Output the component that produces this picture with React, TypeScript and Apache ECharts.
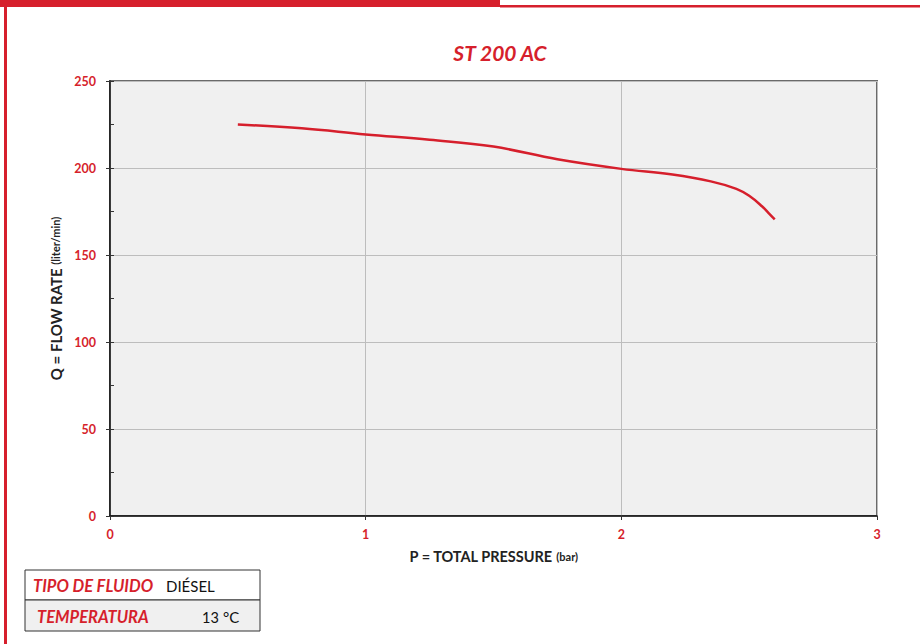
import React, { useEffect, useRef } from "react";
import * as echarts from "echarts";

const titleText = "ST 200 AC";
const pressure = [0.5, 0.75, 1.0, 1.25, 1.5, 1.75, 2.0, 2.2, 2.35, 2.45, 2.5, 2.55, 2.58, 2.6];
const flow = [225, 222.8, 219.3, 216.2, 212.3, 205, 199.5, 196.2, 192.3, 188, 184, 178, 173.5, 170.5];
const xTicks = [0, 1, 2, 3];
const yTicks = [0, 50, 100, 150, 200, 250];
const tableRows = [
  ["TIPO DE FLUIDO", "DIÉSEL", ""],
  ["TEMPERATURA", "13", "°C"],
];

const RED = "#d61f2c";

export default function App() {
  const ref = useRef<HTMLDivElement>(null);
  useEffect(() => {
    if (!ref.current) return;
    const chart = echarts.init(ref.current, undefined, { renderer: "svg" });
    const data = pressure.map((p, i) => [p, flow[i]]);
    const font = "Lato, 'Open Sans', sans-serif";
    chart.setOption({
      animation: false,
      backgroundColor: "#ffffff",
      grid: {
        left: 110,
        right: 43,
        top: 81,
        bottom: 128,
        show: true,
        backgroundColor: "#f0f0f0",
        borderColor: "#6a6a6a",
        borderWidth: 2,
      },
      xAxis: {
        type: "value",
        min: xTicks[0],
        max: xTicks[xTicks.length - 1],
        interval: 1,
        name: "{a|P = TOTAL PRESSURE }{b|(bar)}",
        nameLocation: "middle",
        nameGap: 33,
        nameTextStyle: {
          rich: {
            a: { fontFamily: font, fontSize: 14.5, fontWeight: "bold", color: "#222" },
            b: { fontFamily: font, fontSize: 11, fontWeight: "bold", color: "#222" },
          },
        },
        axisLine: { show: true, onZero: false, lineStyle: { color: "#111", width: 1.5 } },
        axisTick: { show: true, length: 4, lineStyle: { color: "#333" } },
        axisLabel: { color: RED, fontFamily: font, fontWeight: "bold", fontSize: 12.5, margin: 12 },
        splitLine: { show: true, lineStyle: { color: "#bdbdbd", width: 1 } },
      },
      yAxis: [
        {
          type: "value",
          min: yTicks[0],
          max: yTicks[yTicks.length - 1],
          interval: 50,
          name: "{a|Q = FLOW RATE }{b|(liter/min)}",
          nameLocation: "middle",
          nameRotate: 90,
          nameGap: 43,
          nameTextStyle: {
            rich: {
              a: { fontFamily: font, fontSize: 15, fontWeight: "bold", color: "#222" },
              b: { fontFamily: font, fontSize: 11, fontWeight: "bold", color: "#222" },
            },
          },
          axisLine: { show: true, onZero: false, lineStyle: { color: "#111", width: 1.5 } },
          axisTick: { show: true, length: 4, lineStyle: { color: "#333" } },
          axisLabel: { color: RED, fontFamily: font, fontWeight: "bold", fontSize: 12.5, margin: 14 },
          splitLine: { show: true, lineStyle: { color: "#bdbdbd", width: 1 } },
        },
        {
          type: "value",
          position: "left",
          min: 0,
          max: 250,
          interval: 25,
          axisLine: { show: false },
          axisTick: { show: true, inside: true, length: 4, lineStyle: { color: "#333" } },
          axisLabel: { show: false },
          splitLine: { show: false },
        },
      ],
      series: [
        {
          type: "line",
          data,
          smooth: 0.4,
          showSymbol: false,
          yAxisIndex: 0,
          lineStyle: { color: RED, width: 2.5 },
        },
      ],
      graphic: [
        { type: "rect", shape: { x: 0, y: 0, width: 500, height: 7 }, style: { fill: RED } },
        { type: "rect", shape: { x: 500, y: 5, width: 420, height: 2.5 }, style: { fill: RED } },
        { type: "rect", shape: { x: 4, y: 0, width: 3, height: 644 }, style: { fill: RED } },
        {
          type: "text",
          x: 500,
          y: 52,
          style: {
            text: titleText,
            fill: RED,
            fontFamily: font,
            fontSize: 21,
            fontWeight: "bold",
            fontStyle: "italic",
            textAlign: "center",
            textVerticalAlign: "middle",
          },
        },
        { type: "rect", shape: { x: 25, y: 570, width: 235, height: 30 }, style: { fill: "#ffffff", stroke: "#333", lineWidth: 1 } },
        { type: "rect", shape: { x: 25, y: 600, width: 235, height: 31 }, style: { fill: "#f0f0f0", stroke: "#333", lineWidth: 1 } },
        {
          type: "text",
          x: 33,
          y: 586,
          style: { text: tableRows[0][0], fill: RED, fontFamily: font, fontSize: 16.5, fontWeight: "bold", fontStyle: "italic", textVerticalAlign: "middle" },
        },
        {
          type: "text",
          x: 166,
          y: 586,
          style: { text: tableRows[0][1], fill: "#111", fontFamily: font, fontSize: 15, fontWeight: "normal", textVerticalAlign: "middle" },
        },
        {
          type: "text",
          x: 37,
          y: 617,
          style: { text: tableRows[1][0], fill: RED, fontFamily: font, fontSize: 16.5, fontWeight: "bold", fontStyle: "italic", textVerticalAlign: "middle" },
        },
        {
          type: "text",
          x: 202,
          y: 617,
          style: { text: tableRows[1][1], fill: "#111", fontFamily: font, fontSize: 14.5, fontWeight: "normal", textVerticalAlign: "middle" },
        },
        {
          type: "text",
          x: 223,
          y: 617,
          style: { text: tableRows[1][2], fill: "#111", fontFamily: font, fontSize: 15, fontWeight: "normal", textVerticalAlign: "middle" },
        },
      ],
    });
    return () => chart.dispose();
  }, []);
  return (
    <div
      ref={ref}
      style={{ position: "fixed", left: 0, top: 0, width: 920, height: 644 }}
    />
  );
}
